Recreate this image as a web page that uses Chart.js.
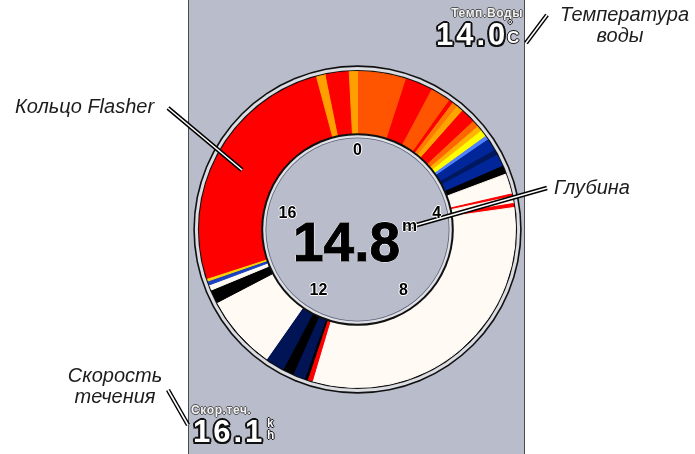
<!DOCTYPE html>
<html>
<head>
<meta charset="utf-8">
<script src="https://cdn.jsdelivr.net/npm/chart.js@4.4.1/dist/chart.umd.min.js"></script>
<style>
  body { margin: 0; background: #fff; }
  #wrap { position: relative; width: 695px; height: 454px; overflow: hidden; font-family: "Liberation Sans", Arial, sans-serif; }
  #panel { position: absolute; left: 188px; top: 0; width: 335px; height: 454px; background: #b8bccb; border-left: 1px solid #4a4a50; border-right: 1px solid #4a4a50; }
  #flasher { position: absolute; left: 0; top: 0; }
  .note { position: absolute; font-style: italic; font-size: 20px; line-height: 20px; color: #1c1c1c; white-space: nowrap; }
  .tick { position: absolute; width: 40px; text-align: center; font-weight: bold; font-size: 16px; line-height: 16px; color: #000;
    text-shadow: -1px 0 #fff, 1px 0 #fff, 0 -1px #fff, 0 1px #fff; }
  .big { position: absolute; font-weight: bold; font-size: 31px; line-height: 31px; color: #fff; letter-spacing: 3px; white-space: nowrap;
    text-shadow: -2px 0 #111, 2px 0 #111, 0 -2px #111, 0 2px #111, -1.5px -1.5px #111, 1.5px -1.5px #111, -1.5px 1.5px #111, 1.5px 1.5px #111; }
  .cap { position: absolute; font-weight: bold; font-size: 12px; line-height: 12px; color: #f2f2f2; white-space: nowrap; letter-spacing: 0.6px;
    text-shadow: -1px 0 #555, 1px 0 #555, 0 -1px #555, 0 1px #555; }
  .unit { position: absolute; font-weight: bold; color: #fff; line-height: 12px; white-space: nowrap;
    text-shadow: -1px 0 #111, 1px 0 #111, 0 -1px #111, 0 1px #111; }
</style>
</head>
<body>
<div id="wrap">
  <div id="panel"></div>
  <canvas id="flasher" width="695" height="454"></canvas>

  <div class="note" style="left:15px;top:96px;">Кольцо Flasher</div>
  <div class="note" style="left:554px;top:177px;">Глубина</div>
  <div class="note" style="left:560px;top:4px;width:120px;text-align:center;line-height:21px;">Температура<br>воды</div>
  <div class="note" style="left:55px;top:365px;width:120px;text-align:center;line-height:21px;">Скорость<br>течения</div>

  <div class="cap" style="right:172px;top:7px;">Темп.Воды</div>
  <div class="big" id="tempVal" style="left:436px;top:19px;"></div>
  <div class="unit" style="left:508px;top:18px;font-size:11px;">°</div>
  <div class="unit" style="left:507px;top:29px;font-size:17px;line-height:17px;">C</div>

  <div class="cap" style="left:191px;top:404px;">Скор.теч.</div>
  <div class="big" id="speedVal" style="left:193px;top:416px;"></div>
  <div class="unit" style="left:267px;top:417px;font-size:12px;">k<br>h</div>

  <div id="depthVal" style="position:absolute;left:293px;top:215px;font-weight:bold;font-size:55px;line-height:55px;color:#000;
    -webkit-text-stroke:1px #000;text-shadow:-1px 0 #fff,1px 0 #fff,0 -1px #fff,0 1px #fff;"></div>
  <div style="position:absolute;left:402px;top:217px;font-weight:bold;font-size:17px;line-height:17px;color:#000;
    text-shadow:-1px 0 #fff,1px 0 #fff,0 -1px #fff,0 1px #fff;">m</div>
</div>

<script>
// flasher ring: depth scale 0..20 clockwise from the top
const ringMax = 20;
const depthTicks = ['0', '4', '8', '12', '16'];

// signal returns, angular span of each band (degrees) and its colour
const segmentSpan = [18, 10, 7.5, 1.5, 2, 2.5, 5.5, 2.5, 2, 2.5, 1.5, 4.5, 2, 4.5, 3, 7.5, 1, 2.5, 1.5,
  114.6, 1.8, 1.1, 4.5, 4, 7, 27.5, 5, 2, 1.5, 1, 93, 3.5, 8.5, 3];
const segmentColor = ['#ff5500', '#ff0000', '#ff5500', '#ff0000', '#ff7a00', '#ffa500', '#ff0000', '#ff6600',
  '#ffb400', '#ffff00', '#4f80ff', '#00269a', '#00185e', '#00269a', '#000000', '#fffaf4', '#ff0000',
  '#fffaf4', '#ff0000', '#fffaf4', '#ff0000', '#000000', '#001456', '#000000', '#001456', '#fffaf4',
  '#000000', '#fffaf4', '#1a40c0', '#ffd200', '#ff0000', '#ffa000', '#ff0000', '#ffa000'];

const waterTemp = '14.0';
const depth = '14.8';
const currentSpeed = '16.1';

// small hand nudges for the tick labels (layout only)
const tickNudge = [[0, 0], [3, 8], [-1, -4], [8, -4], [6, 8]];

document.getElementById('tempVal').textContent = waterTemp;
document.getElementById('speedVal').textContent = currentSpeed;
document.getElementById('depthVal').textContent = depth;

function disc(ctx, x, y, r, color) {
    ctx.beginPath();
    ctx.arc(x, y, r, 0, Math.PI * 2);
    ctx.fillStyle = color;
    ctx.fill();
}

function callout(ctx, x1, y1, x2, y2) {
    ctx.beginPath();
    ctx.moveTo(x1, y1);
    ctx.lineTo(x2, y2);
    ctx.strokeStyle = '#000';
    ctx.lineWidth = 4.5;
    ctx.stroke();
    ctx.strokeStyle = '#fff';
    ctx.lineWidth = 1.6;
    ctx.stroke();
}

const bezel = {
    id: 'bezel',
    beforeDatasetsDraw(chart) {
        const ctx = chart.ctx;
        const a = chart.getDatasetMeta(0).data[0];
        const {x, y, outerRadius} = a.getProps(['x', 'y', 'outerRadius'], true);
        disc(ctx, x, y, outerRadius + 6.2, '#111');
        disc(ctx, x, y, outerRadius + 4.6, '#dcdde3');
        disc(ctx, x, y, outerRadius + 1.6, '#111');
    },
    afterDatasetsDraw(chart) {
        const ctx = chart.ctx;
        const a = chart.getDatasetMeta(0).data[0];
        const {x, y, innerRadius} = a.getProps(['x', 'y', 'innerRadius'], true);
        disc(ctx, x, y, innerRadius + 0.3, '#111');
        disc(ctx, x, y, innerRadius - 1.7, '#e0e1e7');
        disc(ctx, x, y, innerRadius - 4, '#5c6074');
        disc(ctx, x, y, innerRadius - 4.8, '#b8bccb');
    },
    afterDraw(chart) {
        const ctx = chart.ctx;
        const a = chart.getDatasetMeta(0).data[0];
        const {x, y} = a.getProps(['x', 'y'], true);
        // depth tick labels around the inner disc
        const wrap = document.getElementById('wrap');
        depthTicks.forEach((t, i) => {
            const ang = Number(t) / ringMax * Math.PI * 2;
            const el = document.createElement('div');
            el.className = 'tick';
            el.textContent = t;
            el.style.left = (x + 80 * Math.sin(ang) - 20 + tickNudge[i][0]) + 'px';
            el.style.top = (y - 80 * Math.cos(ang) - 7.8 + tickNudge[i][1]) + 'px';
            wrap.appendChild(el);
        });
        callout(ctx, 168, 108, 242, 170);
        callout(ctx, 547, 188, 406, 228);
        callout(ctx, 526, 43, 547, 15);
        callout(ctx, 168, 390, 188, 425);
    }
};

const ctx = document.getElementById('flasher').getContext('2d');
const flasherChart = new Chart(ctx, {
    type: 'doughnut',
    data: {
        labels: segmentSpan.map((s, i) => 'band ' + (i + 1)),
        datasets: [{
            data: segmentSpan,
            backgroundColor: segmentColor,
            borderColor: segmentColor,
            borderWidth: 1,
            hoverOffset: 0
        }]
    },
    options: {
        responsive: false,
        animation: false,
        devicePixelRatio: 1,
        cutout: 96,
        layout: { padding: { left: 199, top: 71, right: 179, bottom: 66 } },
        plugins: {
            legend: { display: false },
            tooltip: { enabled: false }
        },
        events: []
    },
    plugins: [bezel]
});
</script>
</body>
</html>
